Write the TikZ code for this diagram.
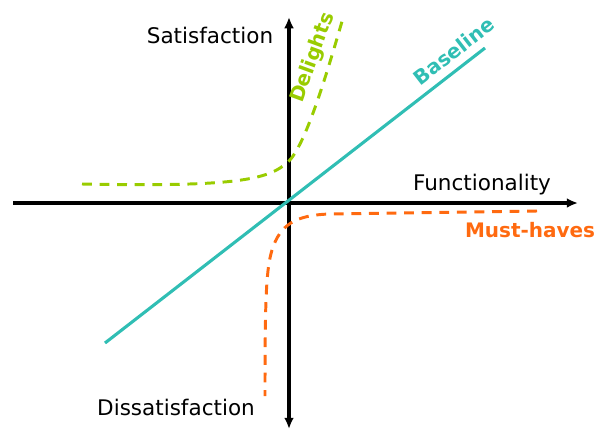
\documentclass[tikz,border=0pt]{standalone}
\usepackage{fontspec}
\setmainfont{DejaVu Sans}
\usetikzlibrary{arrows.meta,positioning}
\definecolor{baseline}{HTML}{30BEB4}
\definecolor{delight}{HTML}{99CC00}
\definecolor{musthave}{HTML}{FF6A10}

\begin{document}
\begin{tikzpicture}[
  x=0.025cm, y=-0.025cm,
  every node/.style={font=\fontsize{15.3}{18}\selectfont, inner sep=0pt},
  axis/.style={line width=2.2pt, draw=black},
  tip/.style={-{Latex[length=8pt,width=7pt]}},
  dtip/.style={{Latex[length=8pt,width=7pt]}-{Latex[length=8pt,width=7pt]}},
  curve/.style={line width=2.1pt, dash pattern=on 7pt off 5.5pt},
  lbl/.style={font=\fontsize{14.2}{17}\selectfont\bfseries},
]
\useasboundingbox (0,0) rectangle (597,429);

%% Axes
\coordinate (xl) at (13,203);
\coordinate (xr) at (578,203);
\coordinate (yt) at (289,17);
\coordinate (yb) at (289,429);
\draw[axis, tip] (xl) -- (xr);
\draw[axis, dtip] (yt) -- (yb);

%% Axis labels
\node[anchor=base] (sat) at (210,43) {Satisfaction};
\node[anchor=base] (dissat) at (176,415) {Dissatisfaction};
\node[anchor=base] (func) at (482,190) {Functionality};

%% Baseline
\coordinate (b1) at (105,343);
\coordinate (b2) at (485,48);
\draw[line width=2.2pt, draw=baseline] (b1) -- (b2);
\node[lbl, text=baseline, rotate=37.8] (base) at (454,51) {Baseline};

%% Delights
\draw[curve, draw=delight] (82,184) .. controls (235,187) and (268,180) .. (288,162)
  .. controls (305,146) and (325,80) .. (343,18);
\node[lbl, text=delight, rotate=70] (delights) at (313,58) {Delights};

%% Must-haves
\draw[curve, draw=musthave] (537,211) -- (330,214) .. controls (295,215) and (280,225) .. (272,250)
  .. controls (266,270) and (265,300) .. (265,396);
\node[lbl, text=musthave, anchor=base] (must) at (530,237) {Must-haves};

\end{tikzpicture}
\end{document}
